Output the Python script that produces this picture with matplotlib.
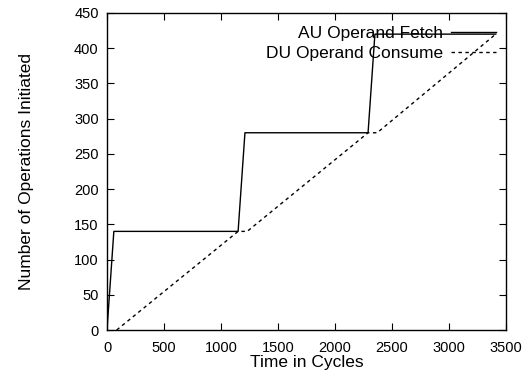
import matplotlib
matplotlib.use("Agg")
import matplotlib.pyplot as plt

plt.rcParams['font.family'] = ['Liberation Sans', 'DejaVu Sans']
plt.rcParams['font.size'] = 10

# AU operand fetch (solid)
au_x = [0, 60, 1150, 1210, 2290, 2350, 3410]
au_y = [0, 140, 140, 280, 280, 420, 420]
# DU operand consume (dashed)
du_x = [85, 1150, 1230, 2290, 2370, 3410]
du_y = [0, 140, 140, 280, 280, 420]

xticks = [0, 500, 1000, 1500, 2000, 2500, 3000, 3500]
yticks = [0, 50, 100, 150, 200, 250, 300, 350, 400, 450]

fig = plt.figure(figsize=(5.28, 3.76), dpi=100)
ax = fig.add_axes([107/528, 46/376, 399/528, 317/376])

ax.plot(au_x, au_y, color='black', lw=1.0, label='AU Operand Fetch')
ax.plot(du_x, du_y, color='black', lw=1.0, dashes=(2.5, 2.5), label='DU Operand Consume')

ax.set_xlim(0, 3500)
ax.set_ylim(0, 450)
ax.set_xticks(xticks)
ax.set_yticks(yticks)
ax.tick_params(direction='in', length=5, width=0.8, top=True, right=True,
               labelsize=10.5)
ax.tick_params(axis='x', pad=8)
ax.tick_params(axis='y', pad=6)
for s in ax.spines.values():
    s.set_linewidth(1.0)

ax.set_xlabel('Time in Cycles', fontsize=12.5, labelpad=0)
ax.set_ylabel('Number of Operations Initiated', fontsize=12.5, labelpad=29)

ax.legend(loc='upper right', bbox_to_anchor=(0.975, 0.96), frameon=False,
          markerfirst=False, handlelength=2.6, handletextpad=0.45,
          borderpad=0, borderaxespad=0, labelspacing=0.3, fontsize=12.5)

fig.savefig('out.png', dpi=100)
